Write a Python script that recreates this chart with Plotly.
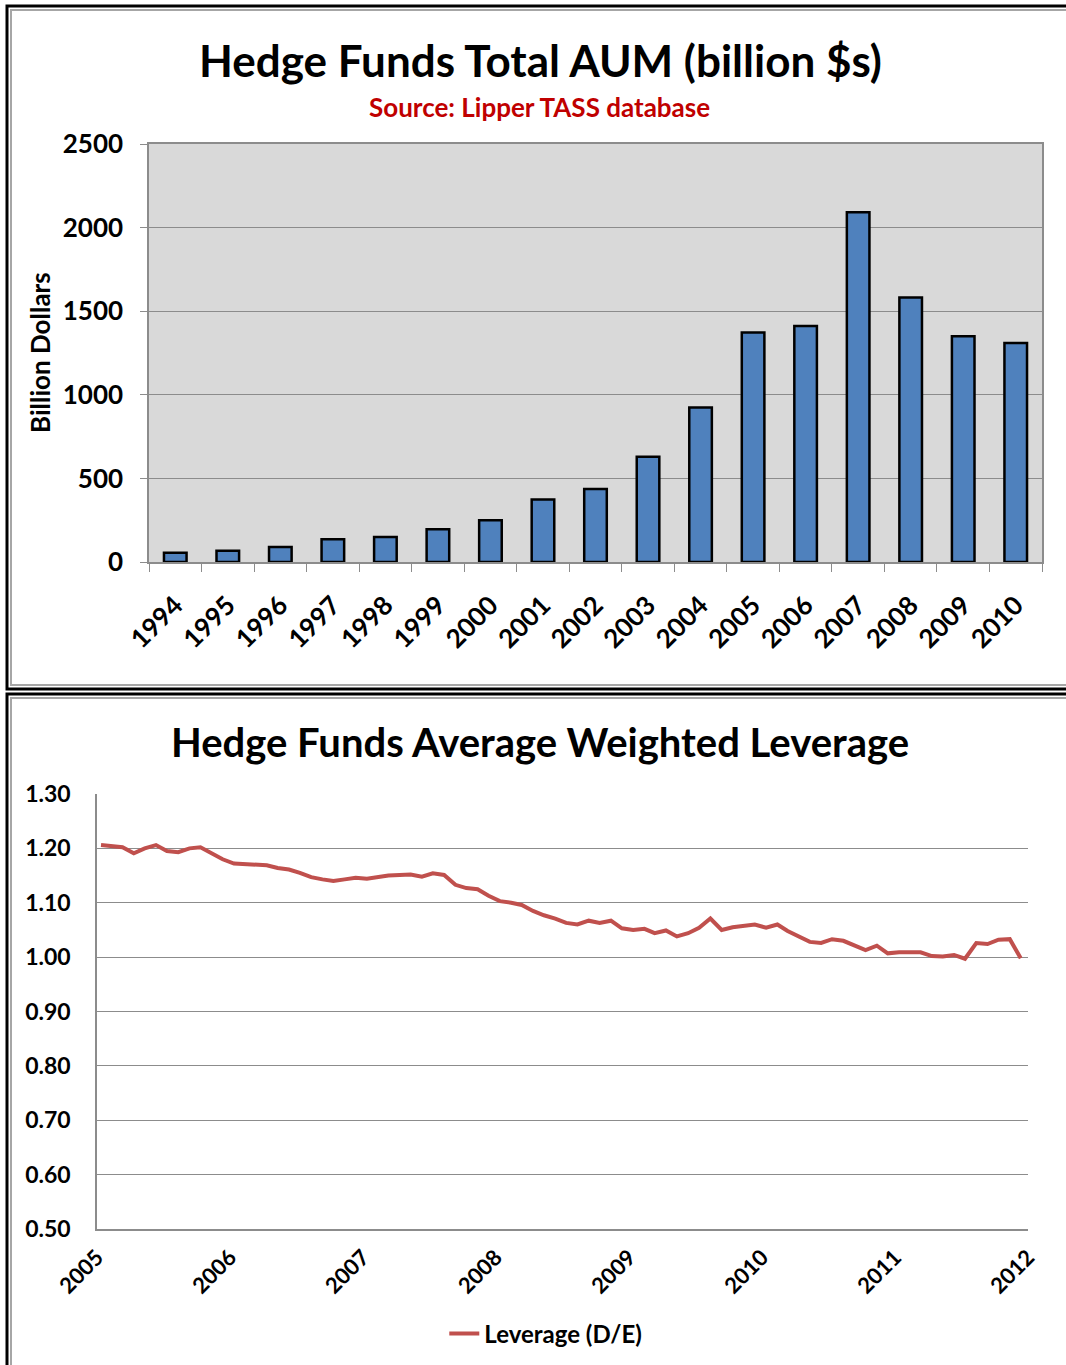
import pandas as pd
import plotly.graph_objects as go

# ---- Hedge fund assets under management (billion $) ----
aum_years = [str(y) for y in range(1994, 2011)]
aum_values = [55, 68, 90, 136, 150, 196, 250, 374, 436, 630, 924, 1372, 1412, 2092, 1582, 1350, 1310]

# ---- Average weighted leverage, monthly Jan 2005 - Dec 2011 ----
lev_start = "2005-01-01"
lev_values = [
    1.206, 1.203, 1.202, 1.191, 1.200, 1.206, 1.195, 1.193, 1.200, 1.202, 1.190, 1.180,
    1.172, 1.171, 1.171, 1.169, 1.164, 1.161, 1.155, 1.147, 1.143, 1.140, 1.143, 1.146,
    1.144, 1.147, 1.150, 1.151, 1.152, 1.148, 1.154, 1.151, 1.133, 1.127, 1.125, 1.113,
    1.103, 1.100, 1.096, 1.085, 1.077, 1.071, 1.063, 1.060, 1.067, 1.063, 1.067, 1.053,
    1.050, 1.052, 1.044, 1.049, 1.038, 1.044, 1.054, 1.071, 1.050, 1.055, 1.057, 1.060,
    1.054, 1.060, 1.048, 1.037, 1.028, 1.026, 1.033, 1.030, 1.021, 1.013, 1.021, 1.007,
    1.009, 1.009, 1.009, 1.002, 1.001, 1.004, 0.997, 1.026, 1.024, 1.032, 1.033, 0.998,
]
# monthly observations plotted near the start of each month
lev_dates = pd.date_range(lev_start, periods=len(lev_values), freq="MS") + pd.Timedelta(days=11)
lev_year_ticks = [f"{y}-01-01" for y in range(2005, 2013)]

W, H = 1066, 1365
FONT = "Lato"


def px_x(x):
    return x / W


def px_y(y):
    return 1 - y / H


fig = go.Figure()

fig.add_trace(go.Bar(
    x=aum_years, y=aum_values,
    marker=dict(color="#4F81BD", line=dict(color="#000000", width=2.5)),
    width=0.43, xaxis="x", yaxis="y", showlegend=False,
))

fig.add_trace(go.Scatter(
    x=lev_dates, y=lev_values, mode="lines", name="Leverage (D/E)",
    line=dict(color="#C0504D", width=4),
    xaxis="x2", yaxis="y2", showlegend=True,
))

tick_font = dict(family=FONT, size=26, color="#000000", weight=700)
xtick_font = dict(family=FONT, size=26, color="#000000", weight=700)
tick_font2 = dict(family=FONT, size=23, color="#000000", weight=700)
xtick_font2 = dict(family=FONT, size=22, color="#000000", weight=700)

fig.update_layout(
    width=W, height=H,
    margin=dict(l=0, r=0, t=0, b=0, autoexpand=False),
    paper_bgcolor="#FFFFFF",
    plot_bgcolor="#FFFFFF",
    font=dict(family=FONT, color="#000000"),
    xaxis=dict(
        domain=[px_x(149), px_x(1042)], anchor="y", automargin=False,
        type="category", range=[-0.5, 16.5],
        tickangle=-45, tickfont=xtick_font, ticklabelstandoff=16,
        ticks="outside", ticklen=8, tickcolor="#8C8C8C", tickson="boundaries",
        showline=True, linecolor="#8C8C8C", linewidth=1.5, mirror=True,
        showgrid=False,
    ),
    yaxis=dict(
        domain=[px_y(562), px_y(144)], anchor="x", automargin=False,
        range=[0, 2500], dtick=500,
        tickfont=tick_font, ticklabelstandoff=12,
        ticks="outside", ticklen=7, tickcolor="#8C8C8C",
        showline=True, linecolor="#8C8C8C", linewidth=1.5, mirror=True,
        gridcolor="#8C8C8C", gridwidth=1.2, zeroline=False,
    ),
    xaxis2=dict(
        domain=[px_x(97), px_x(1028)], anchor="y2", automargin=False,
        type="date", range=["2005-01-01", "2012-01-01"],
        tickmode="array", tickvals=lev_year_ticks, tickformat="%Y",
        tickangle=-45, tickfont=xtick_font2, ticks="", ticklabelstandoff=5,
        showline=True, linecolor="#8C8C8C", linewidth=1.5,
        showgrid=False,
    ),
    yaxis2=dict(
        domain=[px_y(1229), px_y(794)], anchor="x2", automargin=False,
        range=[0.5, 1.3], dtick=0.1, tickformat=".2f",
        tickfont=tick_font2, ticks="", ticklabelstandoff=20,
        showline=True, linecolor="#8C8C8C", linewidth=1.5,
        gridcolor="#8C8C8C", gridwidth=1.2, zeroline=False,
    ),
    legend=dict(
        orientation="h", x=0.512, xanchor="center", y=px_y(1334), yanchor="middle",
        font=dict(family=FONT, size=24, color="#000000", weight=700),
        bgcolor="rgba(0,0,0,0)",
    ),
)

shapes = [
    # grey fill behind the bar chart only
    dict(type="rect", xref="x domain", yref="y domain", x0=0, x1=1, y0=0, y1=1,
         fillcolor="#D9D9D9", line=dict(width=0), layer="below"),
    # panel frames: thick black outer line with a grey inner line
    dict(type="rect", xref="paper", yref="paper",
         x0=px_x(7), x1=px_x(1080), y0=px_y(689), y1=px_y(6),
         line=dict(color="#000000", width=3)),
    dict(type="rect", xref="paper", yref="paper",
         x0=px_x(11), x1=px_x(1076), y0=px_y(685), y1=px_y(10),
         line=dict(color="#A6A6A6", width=2)),
    dict(type="rect", xref="paper", yref="paper",
         x0=px_x(7), x1=px_x(1080), y0=px_y(1380), y1=px_y(694),
         line=dict(color="#000000", width=3)),
    dict(type="rect", xref="paper", yref="paper",
         x0=px_x(11), x1=px_x(1076), y0=px_y(1376), y1=px_y(698),
         line=dict(color="#A6A6A6", width=2)),
]
fig.update_layout(shapes=shapes)

annotations = [
    dict(text="Hedge Funds Total AUM (billion $s)", x=px_x(540), y=px_y(60),
         xref="paper", yref="paper", showarrow=False, xanchor="center", yanchor="middle",
         font=dict(family=FONT, size=44, color="#000000", weight=700)),
    dict(text="Source: Lipper TASS database", x=px_x(539), y=px_y(107),
         xref="paper", yref="paper", showarrow=False, xanchor="center", yanchor="middle",
         font=dict(family=FONT, size=26, color="#C00000", weight=700)),
    dict(text="Billion Dollars", x=px_x(40), y=px_y(353), textangle=-90,
         xref="paper", yref="paper", showarrow=False, xanchor="center", yanchor="middle",
         font=dict(family=FONT, size=26, color="#000000", weight=700)),
    dict(text="Hedge Funds Average Weighted Leverage", x=px_x(540), y=px_y(742),
         xref="paper", yref="paper", showarrow=False, xanchor="center", yanchor="middle",
         font=dict(family=FONT, size=40, color="#000000", weight=700)),
]
fig.update_layout(annotations=annotations)

fig.write_html("out.html")
